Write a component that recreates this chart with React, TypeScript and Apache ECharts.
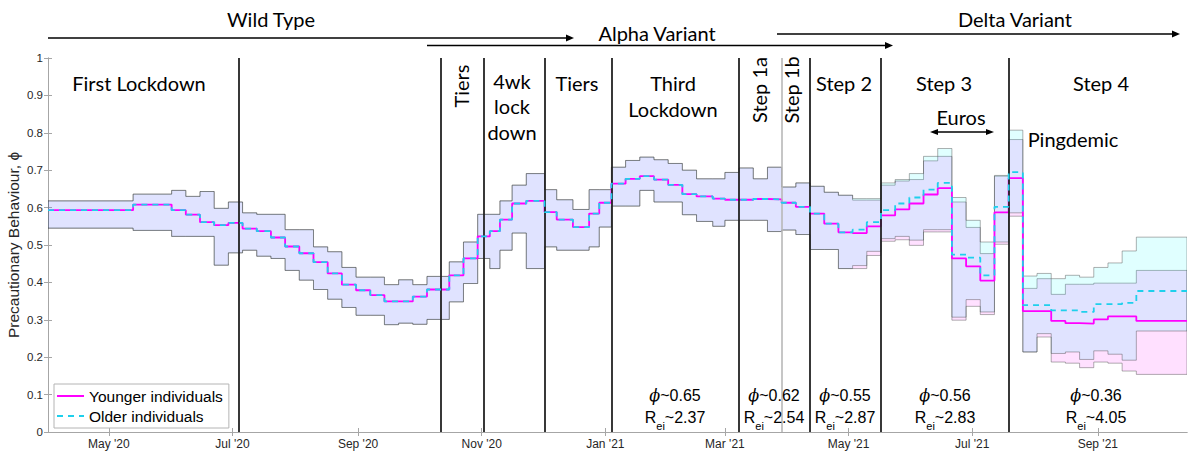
import React, { useEffect, useRef } from 'react';
import * as echarts from 'echarts';

// ---------- data ----------
const START_DATE = '2020-04-01';
const END_DATE = '2021-10-15';

const monthTickDates = ['2020-05-01', '2020-07-01', '2020-09-01', '2020-11-01', '2021-01-01', '2021-03-01', '2021-05-01', '2021-07-01', '2021-09-01'];
const monthTickLabels = ["May '20", "Jul '20", "Sep '20", "Nov '20", "Jan '21", "Mar '21", "May '21", "Jul '21", "Sep '21"];

// dates at which the weekly estimates change
const stepDates = [
  '2020-04-01', '2020-05-13', '2020-06-01', '2020-06-08', '2020-06-15', '2020-06-22', '2020-06-29', '2020-07-06', '2020-07-13', '2020-07-20',
  '2020-07-27', '2020-08-03', '2020-08-10', '2020-08-17', '2020-08-24', '2020-08-31', '2020-09-07', '2020-09-14', '2020-09-21', '2020-09-28',
  '2020-10-05', '2020-10-16', '2020-10-23', '2020-10-30', '2020-11-05', '2020-11-10', '2020-11-16', '2020-11-23', '2020-12-02', '2020-12-08',
  '2020-12-16', '2020-12-24', '2020-12-29', '2021-01-04', '2021-01-11', '2021-01-18', '2021-01-25', '2021-02-01', '2021-02-08', '2021-02-15',
  '2021-02-23', '2021-03-01', '2021-03-08', '2021-03-15', '2021-03-22', '2021-03-29', '2021-04-05', '2021-04-12', '2021-04-19', '2021-04-26',
  '2021-05-03', '2021-05-10', '2021-05-17', '2021-05-24', '2021-05-31', '2021-06-07', '2021-06-14', '2021-06-21', '2021-06-28', '2021-07-05',
  '2021-07-12', '2021-07-19', '2021-07-26', '2021-08-02', '2021-08-09', '2021-08-16', '2021-08-23', '2021-08-30', '2021-09-06', '2021-09-13',
  '2021-09-20',
];

// common to both age groups (until late April 2021)
const sharedMean = [
  0.593, 0.608, 0.593, 0.581, 0.561, 0.553, 0.559, 0.544, 0.537, 0.520,
  0.496, 0.478, 0.454, 0.424, 0.394, 0.379, 0.366, 0.349, 0.349, 0.362,
  0.381, 0.419, 0.464, 0.523, 0.537, 0.568, 0.611, 0.618, 0.588, 0.568,
  0.548, 0.584, 0.613, 0.664, 0.677, 0.684, 0.675, 0.661, 0.636, 0.630,
  0.624, 0.621, 0.621, 0.623, 0.622, 0.613, 0.602, 0.584, 0.557, 0.534,
];
const sharedLow = [
  0.545, 0.539, 0.523, 0.523, 0.523, 0.446, 0.479, 0.486, 0.470, 0.464,
  0.432, 0.406, 0.381, 0.355, 0.333, 0.312, 0.312, 0.287, 0.291, 0.288,
  0.301, 0.348, 0.397, 0.464, 0.437, 0.486, 0.532, 0.437, 0.495, 0.486,
  0.486, 0.495, 0.548, 0.604, 0.604, 0.646, 0.615, 0.615, 0.581, 0.563,
  0.550, 0.566, 0.566, 0.566, 0.536, 0.540, 0.528, 0.488, 0.488, 0.437,
];
const sharedHigh = [
  0.618, 0.636, 0.646, 0.630, 0.643, 0.598, 0.615, 0.586, 0.582, 0.582,
  0.541, 0.541, 0.495, 0.482, 0.440, 0.414, 0.414, 0.394, 0.407, 0.394,
  0.416, 0.455, 0.508, 0.582, 0.582, 0.618, 0.660, 0.691, 0.648, 0.621,
  0.595, 0.648, 0.648, 0.708, 0.726, 0.735, 0.728, 0.718, 0.700, 0.677,
  0.677, 0.694, 0.706, 0.677, 0.708, 0.655, 0.666, 0.657, 0.641, 0.633,
];

// after the groups diverge
const youngMeanTail = [0.532, 0.550, 0.579, 0.595, 0.611, 0.635, 0.652, 0.464, 0.443, 0.405, 0.587, 0.679, 0.323, 0.323, 0.297, 0.291, 0.290, 0.301, 0.309, 0.309, 0.297];
const youngLowTail = [0.437, 0.472, 0.510, 0.514, 0.499, 0.535, 0.535, 0.299, 0.336, 0.314, 0.502, 0.577, 0.214, 0.254, 0.187, 0.184, 0.172, 0.187, 0.184, 0.163, 0.154];
const youngHighTail = [0.620, 0.620, 0.660, 0.671, 0.675, 0.725, 0.737, 0.615, 0.547, 0.477, 0.684, 0.782, 0.384, 0.410, 0.368, 0.395, 0.395, 0.398, 0.398, 0.398, 0.432];
const oldMeanTail = [0.541, 0.561, 0.593, 0.611, 0.627, 0.648, 0.666, 0.474, 0.466, 0.419, 0.602, 0.695, 0.339, 0.339, 0.325, 0.325, 0.321, 0.342, 0.342, 0.345, 0.377];
const oldLowTail = [0.445, 0.483, 0.517, 0.523, 0.513, 0.541, 0.541, 0.307, 0.354, 0.321, 0.508, 0.586, 0.214, 0.263, 0.210, 0.214, 0.194, 0.217, 0.208, 0.192, 0.270];
const oldHighTail = [0.624, 0.624, 0.666, 0.675, 0.691, 0.737, 0.758, 0.627, 0.566, 0.508, 0.686, 0.807, 0.417, 0.424, 0.410, 0.419, 0.414, 0.440, 0.452, 0.484, 0.521];

const interventionDates = ['2020-07-04', '2020-10-12', '2020-11-02', '2020-12-02', '2021-01-04', '2021-03-08', '2021-04-12', '2021-05-17', '2021-07-19'];
const minorInterventionDates = ['2021-03-29'];

const phiLabels = ['0.65', '0.62', '0.55', '0.56', '0.36'];
const reiLabels = ['2.37', '2.54', '2.87', '2.83', '4.05'];

// ---------- helpers ----------
const utc = (s: string) => {
  const [y, m, d] = s.split('-').map(Number);
  return Date.UTC(y, m - 1, d);
};
// x axis unit: days since START_DATE
const dayOf = (s: string) => Math.round((utc(s) - utc(START_DATE)) / 86400000);

const youngMean = [...sharedMean, ...youngMeanTail];
const youngLow = [...sharedLow, ...youngLowTail];
const youngHigh = [...sharedHigh, ...youngHighTail];
const oldMean = [...sharedMean, ...oldMeanTail];
const oldLow = [...sharedLow, ...oldLowTail];
const oldHigh = [...sharedHigh, ...oldHighTail];

const X_MIN = 0;
const X_MAX = dayOf(END_DATE);
const xs = stepDates.map(dayOf);
const tickVals = monthTickDates.map(dayOf);

const stepLine = (vals: number[]) => {
  const pts: number[][] = xs.map((x, i) => [x, vals[i]]);
  pts.push([X_MAX, vals[vals.length - 1]]);
  return pts;
};

const bandSeries = (lo: number[], hi: number[], fill: string) => ({
  type: 'custom',
  silent: true,
  z: 1,
  clip: true,
  data: [[xs[0], lo[0], hi[0]]],
  encode: { x: 0, y: [1, 2] },
  renderItem: (params: any, api: any) => {
    if (params.dataIndex !== 0) return null;
    const pts: number[][] = [];
    for (let i = 0; i < xs.length; i++) {
      const next = i + 1 < xs.length ? xs[i + 1] : X_MAX;
      pts.push(api.coord([xs[i], hi[i]]));
      pts.push(api.coord([next, hi[i]]));
    }
    for (let i = xs.length - 1; i >= 0; i--) {
      const next = i + 1 < xs.length ? xs[i + 1] : X_MAX;
      pts.push(api.coord([next, lo[i]]));
      pts.push(api.coord([xs[i], lo[i]]));
    }
    return {
      type: 'polygon',
      shape: { points: pts },
      style: { fill, stroke: 'rgba(60,60,60,0.5)', lineWidth: 0.8 },
    };
  },
});

const CAL = 'Lato, "Open Sans", sans-serif';
const HEL = '"Liberation Sans", Arial, "DejaVu Sans", sans-serif';
const AXIS_GREY = '#a6a6a6';

const txt = (text: string, x: number, y: number, extra: any = {}) => ({
  type: 'text',
  x,
  y,
  z: 20,
  rotation: extra.rotation || 0,
  style: {
    text,
    fill: '#000',
    fontSize: extra.fontSize || 20,
    fontFamily: extra.fontFamily || CAL,
    align: 'center',
    verticalAlign: 'middle',
  },
});

const arrowRight = (x1: number, x2: number, y: number) => [
  { type: 'line', z: 20, shape: { x1, y1: y, x2: x2 - 7, y2: y }, style: { stroke: '#000', lineWidth: 1.6 } },
  { type: 'polygon', z: 20, shape: { points: [[x2 - 8, y - 3.5], [x2, y], [x2 - 8, y + 3.5]] }, style: { fill: '#000' } },
];

export default function App() {
  const ref = useRef<HTMLDivElement>(null);
  useEffect(() => {
    if (!ref.current) return;
    const chart = echarts.init(ref.current, undefined, { renderer: 'svg' });

    const phiX = [675, 774, 845, 945, 1096];
    const graphics: any[] = [
      txt('Wild Type', 271, 19),
      ...arrowRight(48, 574, 38),
      txt('Alpha Variant', 657, 33),
      ...arrowRight(427, 893, 45.5),
      txt('Delta Variant', 1015, 19),
      ...arrowRight(777, 1180, 34),
      txt('First Lockdown', 139, 83),
      txt('Tiers', 461, 86, { rotation: Math.PI / 2 }),
      txt('4wk', 512, 81),
      txt('lock', 512, 106),
      txt('down', 512, 132),
      txt('Tiers', 577, 83),
      txt('Third', 673, 83),
      txt('Lockdown', 673, 109),
      txt('Step 1a', 759, 90, { rotation: Math.PI / 2 }),
      txt('Step 1b', 791, 90, { rotation: Math.PI / 2 }),
      txt('Step 2', 844, 83),
      txt('Step 3', 944, 83),
      txt('Step 4', 1101, 83),
      txt('Euros', 961, 117),
      { type: 'line', z: 20, shape: { x1: 937, y1: 132, x2: 987, y2: 132 }, style: { stroke: '#000', lineWidth: 1.4 } },
      { type: 'polygon', z: 20, shape: { points: [[938, 129], [930, 132], [938, 135]] }, style: { fill: '#000' } },
      { type: 'polygon', z: 20, shape: { points: [[986, 129], [994, 132], [986, 135]] }, style: { fill: '#000' } },
      txt('Pingdemic', 1073, 139),
    ];
    phiLabels.forEach((p, i) => {
      graphics.push({
        type: 'text', x: phiX[i], y: 395, z: 20,
        style: {
          text: `{p|ϕ}{n|~${p}}`, align: 'center', verticalAlign: 'middle', fill: '#000',
          rich: {
            p: { fontSize: 16, fontStyle: 'italic', fontFamily: '"DejaVu Serif", serif', fill: '#000' },
            n: { fontSize: 16, fontFamily: HEL, fill: '#000' },
          },
        },
      });
      graphics.push({
        type: 'text', x: phiX[i], y: 409, z: 20,
        style: {
          text: `{n|R}{s|ei}{n|~${reiLabels[i]}}`, align: 'center', verticalAlign: 'top', fill: '#000',
          rich: {
            n: { fontSize: 16, fontFamily: HEL, lineHeight: 22, verticalAlign: 'top', fill: '#000' },
            s: { fontSize: 11, fontFamily: HEL, lineHeight: 22, verticalAlign: 'bottom', fill: '#000' },
          },
        },
      });
    });

    const option: any = {
      animation: false,
      backgroundColor: '#fff',
      grid: { left: 48, right: 3, top: 58, bottom: 22, containLabel: false, outerBoundsMode: 'none' },
      legend: {
        data: ['Younger individuals', 'Older individuals'],
        orient: 'vertical',
        left: 54,
        top: 384,
        itemWidth: 27,
        itemHeight: 14,
        itemGap: 4,
        padding: [4, 6, 4, 2],
        backgroundColor: '#fff',
        borderColor: '#b4b4b4',
        borderWidth: 1,
        itemStyle: { opacity: 0 },
        textStyle: { fontSize: 15.5, color: '#000', fontFamily: HEL },
      },
      xAxis: [
        {
          type: 'value', min: X_MIN, max: X_MAX, position: 'bottom',
          axisLine: { lineStyle: { color: AXIS_GREY, width: 1 } },
          axisTick: { inside: true, length: 4, customValues: tickVals, lineStyle: { color: AXIS_GREY } },
          axisLabel: {
            customValues: tickVals,
            formatter: (v: number) => {
              let best = 0;
              tickVals.forEach((tv, i) => { if (Math.abs(tv - v) < Math.abs(tickVals[best] - v)) best = i; });
              return monthTickLabels[best];
            },
            color: '#262626', fontSize: 12, fontFamily: HEL, margin: 6,
          },
          splitLine: { show: false },
        },
        {
          type: 'value', min: X_MIN, max: X_MAX, position: 'top',
          axisLine: { lineStyle: { color: AXIS_GREY, width: 1 } },
          axisTick: { inside: true, length: 4, customValues: tickVals, lineStyle: { color: AXIS_GREY } },
          axisLabel: { show: false },
          splitLine: { show: false },
        },
      ],
      yAxis: [
        {
          type: 'value', min: 0, max: 1, interval: 0.1,
          name: 'Precautionary Behaviour, ϕ', nameLocation: 'middle', nameGap: 27, nameMoveOverlap: false,
          nameTextStyle: { fontSize: 15.5, color: '#262626', fontFamily: HEL },
          axisLine: { show: true, lineStyle: { color: AXIS_GREY, width: 1 } },
          axisTick: { show: true, inside: true, length: 4, lineStyle: { color: AXIS_GREY } },
          axisLabel: { formatter: (v: number) => String(+v.toFixed(1)), color: '#262626', fontSize: 11.5, fontFamily: HEL, margin: 5 },
          splitLine: { show: false },
        },
        {
          type: 'value', min: 0, max: 1, interval: 0.1, position: 'right',
          axisLine: { show: true, lineStyle: { color: AXIS_GREY, width: 1 } },
          axisTick: { show: true, inside: true, length: 4, lineStyle: { color: AXIS_GREY } },
          axisLabel: { show: false },
          splitLine: { show: false },
        },
      ],
      series: [
        bandSeries(youngLow, youngHigh, 'rgba(255,0,255,0.12)'),
        bandSeries(oldLow, oldHigh, 'rgba(0,255,255,0.12)'),
        {
          type: 'line', name: 'interventions', data: [], z: 2, silent: true,
          markLine: {
            symbol: 'none', silent: true, label: { show: false },
            data: [
              ...interventionDates.map((d) => ({ xAxis: dayOf(d), lineStyle: { color: '#222', width: 1.8, type: 'solid' } })),
              ...minorInterventionDates.map((d) => ({ xAxis: dayOf(d), lineStyle: { color: '#b8b8b8', width: 1.6, type: 'solid' } })),
            ],
          },
        },
        {
          type: 'line', name: 'Younger individuals', step: 'end', symbol: 'none', z: 4,
          data: stepLine(youngMean),
          lineStyle: { color: '#ff00ff', width: 1.8 },
          itemStyle: { color: '#ff00ff' },
        },
        {
          type: 'line', name: 'Older individuals', step: 'end', symbol: 'none', z: 5,
          data: stepLine(oldMean),
          lineStyle: { color: '#1ed0ec', width: 1.8, type: [6, 5] },
          itemStyle: { color: '#1ed0ec' },
        },
      ],
      graphic: graphics,
    };
    chart.setOption(option);
    return () => chart.dispose();
  }, []);
  return <div ref={ref} style={{ position: 'fixed', left: 0, top: 0, width: 1190, height: 454 }} />;
}
